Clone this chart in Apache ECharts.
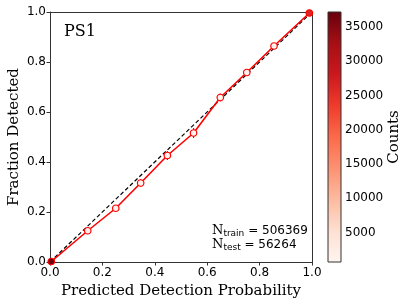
<!DOCTYPE html>
<html><head><meta charset="utf-8">
<script src="https://cdn.jsdelivr.net/npm/echarts@6/dist/echarts.min.js"></script>
<style>html,body{margin:0;padding:0;background:#fff}#c{width:407px;height:305px}</style>
</head><body><div id="c"></div>
<script>
// ---- data ----
const predProb = [0.005, 0.144, 0.251, 0.346, 0.448, 0.548, 0.650, 0.751, 0.855, 0.990];
const fracDet  = [0.002, 0.125, 0.215, 0.316, 0.426, 0.516, 0.658, 0.758, 0.864, 0.996];
const fracErr  = [0.002, 0.010, 0.012, 0.015, 0.018, 0.020, 0.016, 0.012, 0.010, 0.003];
const counts   = [36800, 2400, 1600, 1300, 1100, 1000, 1000, 1100, 1500, 26000];
const diagonal = [[0, 0], [1, 1]];
const cbTicks = [5000, 10000, 15000, 20000, 25000, 30000, 35000];
const cbMin = 730, cbMax = 37150;
const reds = ['#fff5f0','#fee0d2','#fcbba1','#fc9272','#fb6a4a','#ef3b2c','#cb181d','#a50f15','#67000d'];
const nTrain = 506369, nTest = 56264;

const chart = echarts.init(document.getElementById('c'), null, {renderer: 'canvas'});
const sans = 'DejaVu Sans', serif = 'DejaVu Serif';
const points = predProb.map((x, i) => [x, fracDet[i], counts[i]]);
const errData = predProb.map((x, i) => [x, fracDet[i] - fracErr[i], fracDet[i] + fracErr[i]]);

const option = {
  animation: false,
  backgroundColor: '#fff',
  grid: [
    {left: 50, top: 12, width: 262, height: 250, show: false, containLabel: false, outerBoundsMode: 'none'},
    {left: 328, top: 12, width: 13, height: 250, show: false, containLabel: false, outerBoundsMode: 'none'}
  ],
  xAxis: [
    {gridIndex: 0, type: 'value', min: 0, max: 1, interval: 0.2,
     axisLine: {show: true, onZero: false, lineStyle: {color: '#333', width: 1}},
     axisTick: {show: true, length: 3.5, lineStyle: {color: '#333'}},
     axisLabel: {fontFamily: sans, fontSize: 12, color: '#000', margin: 5, formatter: v => v.toFixed(1)},
     splitLine: {show: false},
     name: 'Predicted Detection Probability', nameLocation: 'middle', nameGap: 22, nameMoveOverlap: false,
     nameTextStyle: {fontFamily: serif, fontSize: 15, color: '#000'}},
    {gridIndex: 0, type: 'value', min: 0, max: 1, position: 'top',
     axisLine: {show: true, onZero: false, lineStyle: {color: '#333'}},
     axisTick: {show: false}, axisLabel: {show: false}, splitLine: {show: false}},
    {gridIndex: 1, type: 'value', min: 0, max: 1, show: false}
  ],
  yAxis: [
    {gridIndex: 0, type: 'value', min: 0, max: 1, interval: 0.2,
     axisLine: {show: true, onZero: false, lineStyle: {color: '#333', width: 1}},
     axisTick: {show: true, length: 3.5, lineStyle: {color: '#333'}},
     axisLabel: {fontFamily: sans, fontSize: 12, color: '#000', margin: 4, formatter: v => v.toFixed(1)},
     splitLine: {show: false},
     name: 'Fraction Detected', nameLocation: 'middle', nameGap: 28, nameMoveOverlap: false,
     nameTextStyle: {fontFamily: serif, fontSize: 15, color: '#000'}},
    {gridIndex: 0, type: 'value', min: 0, max: 1, position: 'right',
     axisLine: {show: true, onZero: false, lineStyle: {color: '#333'}},
     axisTick: {show: false}, axisLabel: {show: false}, splitLine: {show: false}},
    {gridIndex: 1, type: 'value', min: cbMin, max: cbMax, position: 'right',
     axisLine: {show: false},
     axisTick: {show: true, length: 3.5, customValues: cbTicks, lineStyle: {color: '#333'}},
     axisLabel: {fontFamily: sans, fontSize: 12, color: '#000', margin: 4, customValues: cbTicks,
                 formatter: v => String(Math.round(v))},
     splitLine: {show: false},
     name: 'Counts', nameLocation: 'middle', nameGap: 46, nameRotate: 90,
     nameTextStyle: {fontFamily: serif, fontSize: 15, color: '#000'}}
  ],
  visualMap: [{
    show: false, type: 'continuous', seriesIndex: 3, dimension: 2,
    min: cbMin, max: cbMax, inRange: {color: reds}
  }],
  series: [
    {type: 'line', xAxisIndex: 0, yAxisIndex: 0, data: diagonal, symbol: 'none',
     lineStyle: {color: '#000', width: 1.2, type: [4, 2.5]}, z: 2},
    {type: 'line', xAxisIndex: 0, yAxisIndex: 0, data: predProb.map((x, i) => [x, fracDet[i]]),
     symbol: 'none', lineStyle: {color: '#ff0000', width: 1.6}, z: 3},
    {type: 'custom', xAxisIndex: 0, yAxisIndex: 0, data: errData, z: 4,
     renderItem: (params, api) => {
       const p1 = api.coord([api.value(0), api.value(1)]);
       const p2 = api.coord([api.value(0), api.value(2)]);
       return {type: 'line', shape: {x1: p1[0], y1: p1[1], x2: p2[0], y2: p2[1]},
               style: {stroke: '#ff0000', lineWidth: 1.2}};
     }},
    {type: 'scatter', xAxisIndex: 0, yAxisIndex: 0, data: points, symbol: 'circle', symbolSize: 6.5,
     itemStyle: {borderColor: '#ff0000', borderWidth: 1.2, opacity: 1}, z: 5},
    {type: 'custom', xAxisIndex: 2, yAxisIndex: 2, data: [[0, cbMin, 1, cbMax]], z: 1,
     renderItem: (params, api) => {
       const a = api.coord([api.value(0), api.value(1)]);
       const b = api.coord([api.value(2), api.value(3)]);
       const stops = reds.map((c, i) => ({offset: i / (reds.length - 1), color: c}));
       return {type: 'rect',
         shape: {x: a[0], y: b[1], width: b[0] - a[0], height: a[1] - b[1]},
         style: {fill: new echarts.graphic.LinearGradient(0, 1, 0, 0, stops), stroke: '#333', lineWidth: 1}};
     }}
  ],
  graphic: [
    {type: 'text', left: 64, top: 24,
     style: {text: 'PS1', fontFamily: serif, fontSize: 16, fill: '#000'}},
    {type: 'text', left: 212, top: 224,
     style: {
       text: '{n|N}{s|train}{r| = ' + nTrain + '}\n{n|N}{s|test}{r| = ' + nTest + '}',
       rich: {
         n: {fontFamily: serif, fontSize: 13, fill: '#000', lineHeight: 14},
         s: {fontFamily: sans, fontSize: 9, fill: '#000', verticalAlign: 'bottom', lineHeight: 14, padding: [5, 0, 0, 0]},
         r: {fontFamily: sans, fontSize: 12, fill: '#000', lineHeight: 14}
       }
     }}
  ]
};
chart.setOption(option);
</script></body></html>
